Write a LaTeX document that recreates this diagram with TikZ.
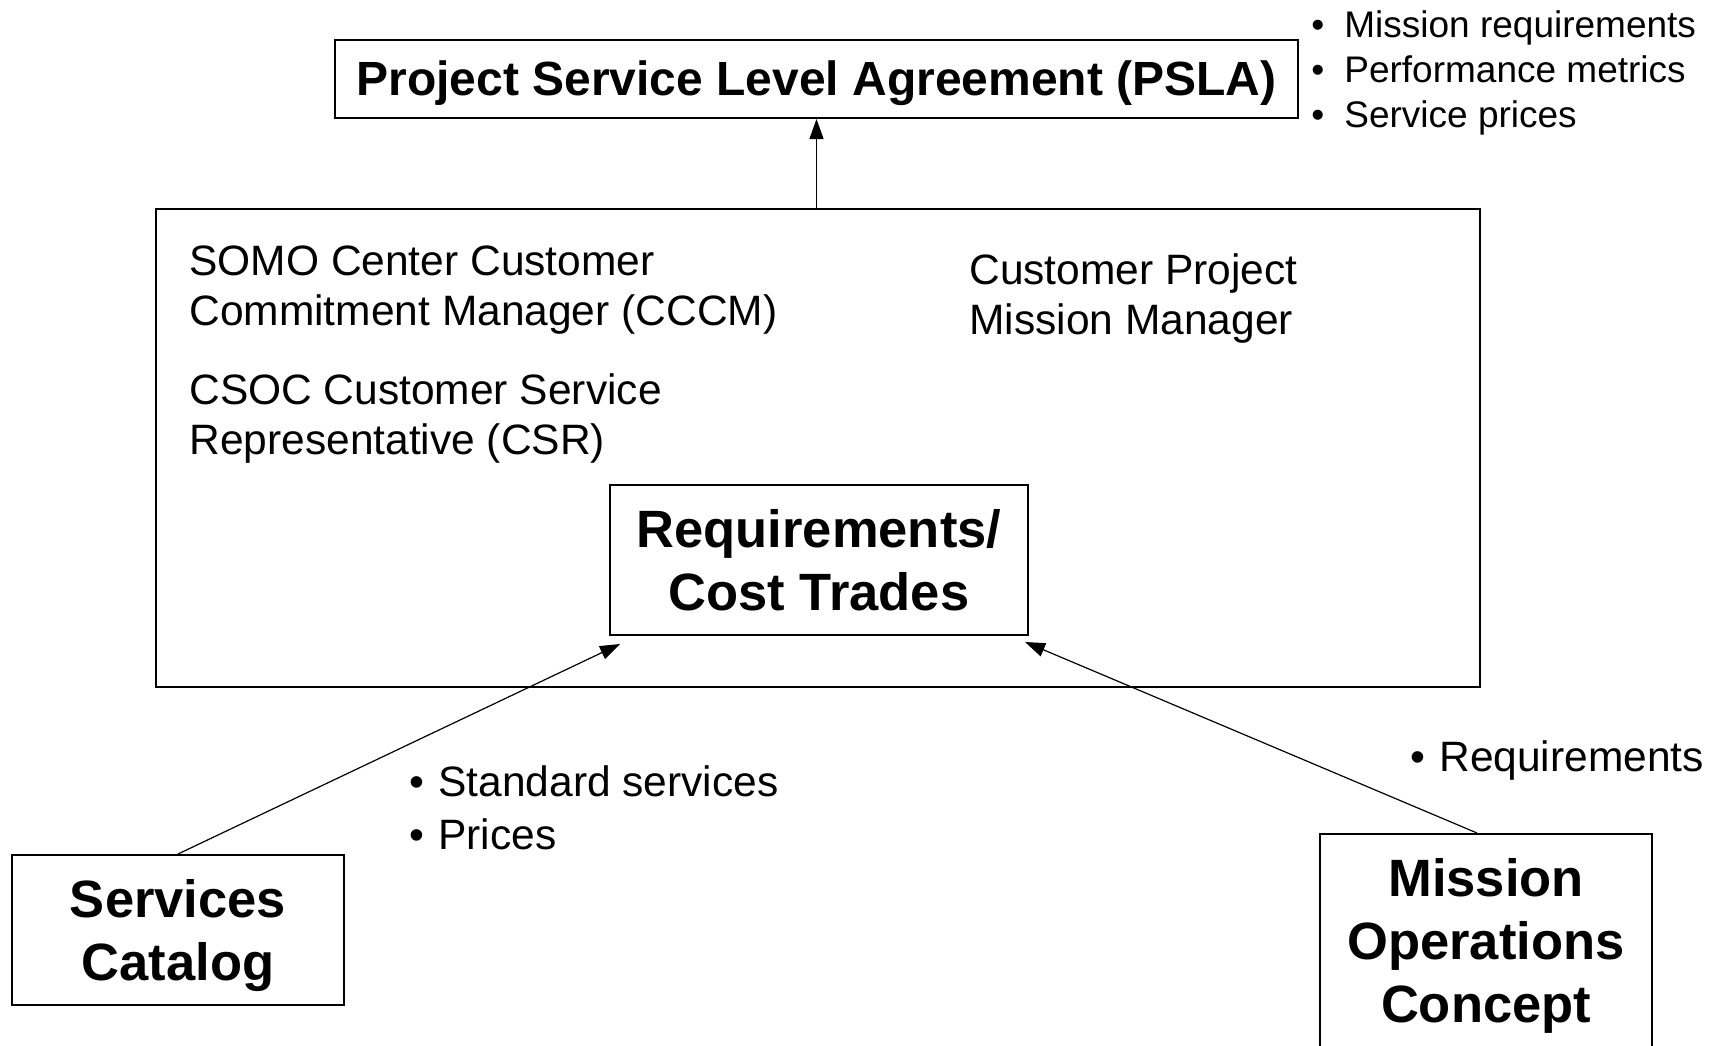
\documentclass[tikz,border=0pt]{standalone}
\usepackage{fontspec}
\setmainfont{Liberation Sans}
\usetikzlibrary{arrows.meta}
\begin{document}
\begin{tikzpicture}[x=0.5pt, y=-0.5pt,
    box/.style={draw, line width=1pt, inner sep=0pt, align=center,
      font=\fontsize{26.25pt}{31.5pt}\selectfont\bfseries},
    txt/.style={inner sep=0pt, align=left, anchor=west,
      font=\fontsize{21.25pt}{25pt}\selectfont},
    small/.style={inner sep=0pt, align=left, anchor=west,
      font=\fontsize{18.5pt}{22.5pt}\selectfont},
    link/.style={line width=0.6pt, -{Triangle[length=10pt, width=7pt]}}]
  \useasboundingbox (0,0) rectangle (1713,1045);

  % boxes
  \node[box, minimum width=662pt, minimum height=239pt] (team) at (818,448) {};
  \node[box, minimum width=481.5pt, minimum height=39pt, text depth=0.6pt,
    font=\fontsize{24pt}{28pt}\selectfont\bfseries] (psla) at (816.5,79)
    {Project Service Level Agreement (PSLA)};
  \node[box, minimum width=209pt, minimum height=75pt] (trades) at (819,560)
    {Requirements/\\Cost Trades};
  \node[box, minimum width=166pt, minimum height=75pt, text depth=-1pt] (catalog) at (178,930)
    {Services\\Catalog};
  \node[box, minimum width=166pt, minimum height=107pt, text depth=1pt] (moc) at (1486,941)
    {Mission\\Operations\\Concept};

  % roles
  \node[txt] (cccm) at (189,290.5) {SOMO Center Customer\\Commitment Manager (CCCM)};
  \node[txt] (csr) at (189,418.5) {CSOC Customer Service\\Representative (CSR)};
  \node[txt] (cpmm) at (969,298.5) {Customer Project\\Mission Manager};

  % bullet lists
  \node[small] (pslaitems) at (1311,72.5)
    {\makebox[16.5pt][l]{•}Mission requirements\\
     \makebox[16.5pt][l]{•}Performance metrics\\
     \makebox[16.5pt][l]{•}Service prices};
  \node[txt, font=\fontsize{21.25pt}{26.5pt}\selectfont] (catitems) at (409,808)
    {\makebox[14.5pt][l]{•}Standard services\\\makebox[14.5pt][l]{•}Prices};
  \node[txt] (mocitems) at (1410,760.5) {\makebox[14.5pt][l]{•}Requirements};

  % arrows
  \draw[link] (psla.south |- team.north) -- (psla.south);
  \draw[link] (catalog.north) -- ([shift={(11,8)}]trades.south west);
  \draw[link] ([xshift=-4.5pt]moc.north) -- ([shift={(-4,6)}]trades.south east);
\end{tikzpicture}
\end{document}
